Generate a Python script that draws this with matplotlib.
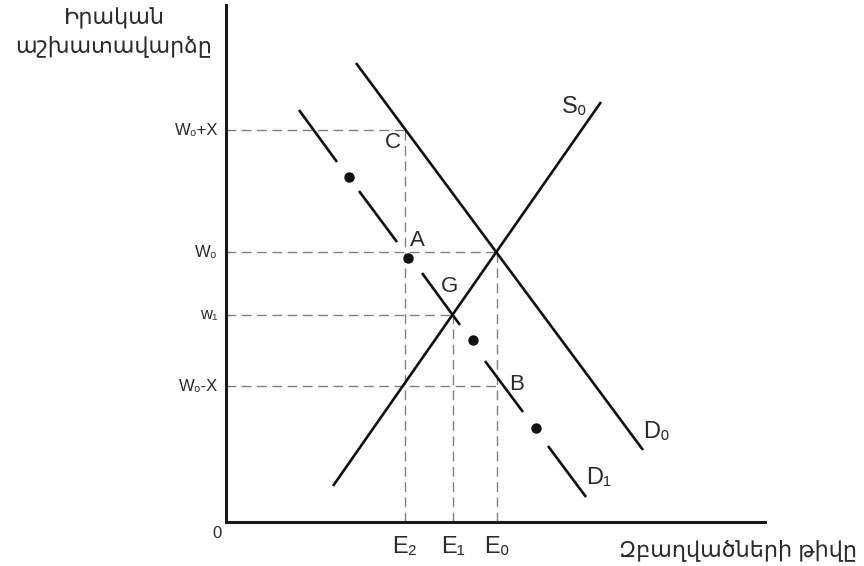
import matplotlib.pyplot as plt

plt.rcParams['font.family'] = ['Liberation Sans', 'DejaVu Sans']

# levels on the wage axis and employment axis (diagram units)
w_levels = [392, 270, 207, 136]
w_labels = ['W\u2080+X', 'W\u2080', 'w\u2081', 'W\u2080-X']
w_ends = [179, 271, 227, 271]          # where each horizontal guide stops
e_levels = [179, 227, 271]
e_labels = ['E\u2082', 'E\u2081', 'E\u2080']
e_tops = [392, 207, 270]               # where each vertical guide stops

# curves
d0_x = [130, 417]
d0_y = [459, 72]
s0_x = [107, 375]
s0_y = [36, 420]
# shifted demand D1, drawn as broken segments with dots between
d1_seg_x = [(73, 111), (133, 171), (196, 234), (259, 297), (322, 360)]
d1_seg_y = [(412, 360), (331, 280), (249, 197), (161, 110), (76, 25)]
d1_dot_x = [123, 182, 247, 310]
d1_dot_y = [345, 264, 182, 94]

fig = plt.figure(figsize=(8.64, 5.66), dpi=100)
ax = fig.add_axes([226 / 864, 44 / 566, 539 / 864, 517 / 566])
ax.set_xlim(0, 539)
ax.set_ylim(0, 517)
for s in ['top', 'right']:
    ax.spines[s].set_visible(False)
for s in ['left', 'bottom']:
    ax.spines[s].set_linewidth(2.2)
    ax.spines[s].set_color('#1a1a1a')
ax.set_xticks([])
ax.set_yticks([])

dash = dict(color='#808080', lw=1.0, ls=(0, (7, 4)))
for y, xe in zip(w_levels, w_ends):
    ax.plot([0, xe], [y, y], **dash)
for x, yt in zip(e_levels, e_tops):
    ax.plot([x, x], [0, yt], **dash)

ax.plot(d0_x, d0_y, color='#111111', lw=1.9, solid_capstyle='butt')
ax.plot(s0_x, s0_y, color='#111111', lw=1.9, solid_capstyle='butt')
for xs, ys in zip(d1_seg_x, d1_seg_y):
    ax.plot(xs, ys, color='#111111', lw=1.9, solid_capstyle='butt')
ax.plot(d1_dot_x, d1_dot_y, 'o', color='#111111', ms=6.5, ls='none')

txt = '#2a2a2a'
# labels on the axes
for y, lab in zip(w_levels, w_labels):
    ax.text(-8, y, lab, ha='right', va='center', fontsize=12, color=txt)
for x, lab in zip(e_levels, e_labels):
    ax.text(x, -14, lab, ha='center', va='top', fontsize=17, color=txt)
ax.text(-9, -4, '0', ha='center', va='top', fontsize=12, color=txt)

# point and curve names
ax.text(167, 380, 'C', fontsize=16, ha='center', va='center', color=txt)
ax.text(191, 282, 'A', fontsize=16, ha='center', va='center', color=txt)
ax.text(224, 235, 'G', fontsize=16, ha='center', va='center', color=txt)
ax.text(291, 138, 'B', fontsize=16, ha='center', va='center', color=txt)
ax.text(336, 415, 'S\u2080', fontsize=17, ha='left', va='center', color=txt)
ax.text(417, 90, 'D\u2080', fontsize=17, ha='left', va='center', color=txt)
ax.text(360, 44, 'D\u2081', fontsize=17, ha='left', va='center', color=txt)

fig.text(114 / 864, 1 - 33 / 566, 'Իրական\nաշխատավարձը', ha='center', va='center',
         fontsize=16, color=txt, linespacing=1.35)
fig.text(857 / 864, 1 - 550 / 566, 'Զբաղվածների թիվը', ha='right', va='center',
         fontsize=16, color=txt)

fig.savefig('out.png', dpi=100)
